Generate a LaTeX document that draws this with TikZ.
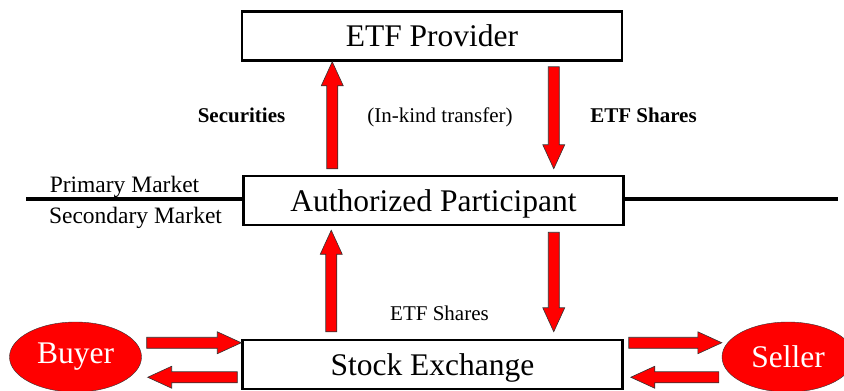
\documentclass[tikz,border=0pt]{standalone}
\usepackage{fontspec}
\setmainfont{Liberation Serif}
\usetikzlibrary{calc,shapes.geometric}

% block arrow with a black rim, from #1 to the tip #2
\newcommand{\fatarrow}[2]{%
  \coordinate (hb) at ($(#2)!24pt!(#1)$);
  \filldraw[fatarr] ($(#1)!5.5pt!90:(#2)$) -- ($(hb)!5.5pt!90:(#2)$) -- ($(hb)!11pt!90:(#2)$) -- (#2)
    -- ($(hb)!11pt!-90:(#2)$) -- ($(hb)!5.5pt!-90:(#2)$) -- ($(#1)!5.5pt!-90:(#2)$) -- cycle;
}

\begin{document}
\begin{tikzpicture}[x=1pt,y=-1pt,
  box/.style={draw,line width=2.5pt,minimum width=380pt,minimum height=49pt,inner sep=0pt,
    text height=21pt,text depth=0pt,font=\fontsize{31.5}{36}\selectfont},
  party/.style={ellipse,draw=black!80,fill=red,text=white,minimum width=132pt,minimum height=70pt,
    inner sep=0pt,font=\fontsize{31.5}{36}\selectfont},
  fatarr/.style={fill=red,draw=black!80,line width=0.6pt},
  lbl/.style={font=\fontsize{21}{25}\selectfont,anchor=base},
  mkt/.style={font=\fontsize{23.5}{28}\selectfont,anchor=base}]
  \useasboundingbox (0,0) rectangle (844,391);
  % the three levels
  \node[box] (prov) at (432,36) {ETF Provider};
  \node[box] (ap) at (433.5,200.5) {Authorized Participant};
  \node[box] (se) at (432.5,364.5) {Stock Exchange};
  \node[party] (buyer) at (75.5,357) {Buyer};
  \node[party] (seller) at (788,357) {Seller};
  % primary / secondary market divide
  \coordinate (mktL) at (26,199);
  \coordinate (mktR) at (838,199);
  \draw[line width=3.5pt] (mktL) -- (mktL -| ap.west);
  \draw[line width=3.5pt] (mktR -| ap.east) -- (mktR);
  \node[mkt] (prim) at (124.5,192) {Primary Market};
  \node[mkt] (secm) at (135.5,223) {Secondary Market};
  % labels
  \node[lbl] (secu) at (241.5,122) {\textbf{Securities}};
  \node[lbl] (inkind) at (440,122) {(In-kind transfer)};
  \node[lbl] (etfup) at (643.5,122) {\textbf{ETF Shares}};
  \node[lbl] (etfdn) at (439.5,320) {ETF Shares};
  % creation between AP and provider
  \coordinate (secS) at ([xshift=90pt,yshift=6pt]ap.north west);
  \coordinate (secT) at (secS |- prov.south);
  \coordinate (shrS) at ([xshift=313pt,yshift=-5pt]prov.south west);
  \coordinate (shrT) at ($(shrS |- ap.north)+(0pt,6pt)$);
  \fatarrow{secS}{secT}
  \fatarrow{shrS}{shrT}
  % AP trading on the exchange
  \coordinate (buyS) at ([xshift=90pt,yshift=7pt]se.north west);
  \coordinate (buyT) at ($(buyS |- ap.south)+(0pt,-4pt)$);
  \coordinate (selS) at ($(shrS |- ap.south)+(0pt,-6pt)$);
  \coordinate (selT) at ($(shrS |- se.north)+(0pt,7pt)$);
  \fatarrow{buyS}{buyT}
  \fatarrow{selS}{selT}
  % buyer and seller orders
  \coordinate (bInT) at ([yshift=-4pt]se.north west);
  \coordinate (bInS) at ($(buyer.east |- bInT)+(5pt,0pt)$);
  \coordinate (bOutS) at ([xshift=-4pt,yshift=13pt]se.south west);
  \coordinate (bOutT) at ($(buyer.east |- bOutS)+(6pt,0pt)$);
  \coordinate (sOutS) at ([xshift=5pt,yshift=-4pt]se.north east);
  \coordinate (sOutT) at (seller.west |- sOutS);
  \coordinate (sInT) at ([xshift=7pt,yshift=13pt]se.south east);
  \coordinate (sInS) at ($(seller.west |- sInT)+(-3pt,0pt)$);
  \fatarrow{bInS}{bInT}
  \fatarrow{bOutS}{bOutT}
  \fatarrow{sOutS}{sOutT}
  \fatarrow{sInS}{sInT}
\end{tikzpicture}
\end{document}
